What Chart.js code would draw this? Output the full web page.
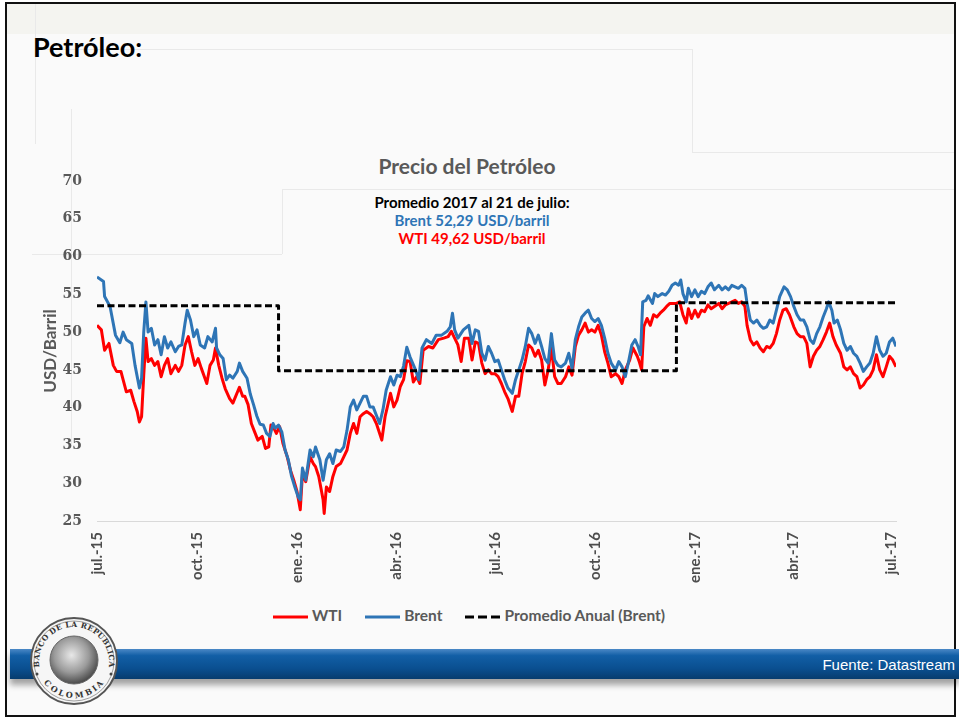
<!DOCTYPE html>
<html lang="es">
<head>
<meta charset="utf-8">
<script src="https://cdn.jsdelivr.net/npm/chart.js@4.4.1/dist/chart.umd.min.js"></script>
<style>
    html, body { margin: 0; padding: 0; width: 959px; height: 721px; overflow: hidden; background: #ffffff; }
    #slide { position: absolute; left: 5px; top: 2px; width: 951px; height: 715px; box-sizing: border-box;
             border: 2px solid #111; background: #fafafa; overflow: hidden; }
    .faint { position: absolute; background: #e9e9e9; }
    #franjaTop { position: absolute; left: 0; top: 0; width: 100%; height: 30px; background: #f4f4f0; }
    #tituloSlide { position: absolute; left: 33px; top: 30px; font: bold 27px Lato, sans-serif; color: #000; }
    #tituloGrafico { position: absolute; left: 267px; width: 400px; top: 153px; text-align: center;
                     font: bold 21px Lato, sans-serif; color: #595959; }
    #nota { position: absolute; left: 272px; width: 400px; top: 193px; text-align: center;
            font: bold 15px/18px Lato, sans-serif; }
    #grafico { position: absolute; left: 0; top: 140px; width: 959px; height: 460px; }
    #leyenda { position: absolute; left: 273px; top: 605px; display: flex; align-items: center; height: 19px;
               font: bold 15.5px Lato, sans-serif; color: #595959; white-space: nowrap; }
    #leyenda svg { margin-right: 4px; position: relative; top: 2px; }
    #leyenda .item { display: flex; align-items: center; margin-right: 23px; }
    #banda { position: absolute; left: 10px; top: 649px; width: 949px; height: 30px;
             background: linear-gradient(to bottom, #4a88c6 0%, #125fa6 22%, #0a4f90 65%, #073c6e 100%);
             box-shadow: 0 6px 6px rgba(0,0,0,0.35); }
    #fuente { position: absolute; right: 4px; top: 656px; font: 15px "Liberation Sans", Arial, sans-serif; color: #fff; }
    #logo { position: absolute; left: 29px; top: 616px; }
</style>
</head>
<body>
<div id="slide">
    <div id="franjaTop"></div>
    <div class="faint" style="left:28px; top:0; width:1px; height:140px;"></div>
    <div class="faint" style="left:28px; top:45px; width:657px; height:1px;"></div>
    <div class="faint" style="left:685px; top:45px; width:1px; height:103px;"></div>
    <div class="faint" style="left:685px; top:148px; width:270px; height:1px;"></div>
    <div class="faint" style="left:64px; top:105px; width:1px; height:335px;"></div>
    <div class="faint" style="left:275px; top:185px; width:680px; height:1px;"></div>
    <div class="faint" style="left:275px; top:185px; width:1px; height:65px;"></div>
    <div class="faint" style="left:25px; top:250px; width:250px; height:1px;"></div>
</div>
<div id="tituloSlide">Petróleo:</div>
<div id="tituloGrafico">Precio del Petróleo</div>
<div id="nota">
    <div style="color:#000">Promedio 2017 al 21 de julio:</div>
    <div style="color:#2E75B6">Brent 52,29 USD/barril</div>
    <div style="color:#FF0000">WTI 49,62 USD/barril</div>
</div>
<canvas id="grafico" width="959" height="460"></canvas>
<div id="leyenda">
    <div class="item"><svg width="35" height="6"><line x1="0" y1="3" x2="35" y2="3" stroke="#FF0000" stroke-width="3"/></svg>WTI</div>
    <div class="item"><svg width="35" height="6"><line x1="0" y1="3" x2="35" y2="3" stroke="#2E75B6" stroke-width="3"/></svg>Brent</div>
    <div class="item"><svg width="35" height="6"><line x1="0" y1="3" x2="35" y2="3" stroke="#000" stroke-width="3" stroke-dasharray="9 4"/></svg>Promedio Anual (Brent)</div>
</div>
<div id="banda"></div>
<div id="fuente">Fuente: Datastream</div>
<svg id="logo" width="90" height="90" viewBox="0 0 90 90">
    <defs>
        <radialGradient id="cara" cx="45%" cy="40%" r="60%">
            <stop offset="0%" stop-color="#e8e8e8"/>
            <stop offset="60%" stop-color="#9a9a9a"/>
            <stop offset="100%" stop-color="#4a4a4a"/>
        </radialGradient>
        <path id="arcoSup" d="M 15 64 A 35 35 0 1 1 75 64"/>
        <path id="arcoInf" d="M 17 58 A 31 31 0 0 0 73 58"/>
    </defs>
    <circle cx="45" cy="45" r="43" fill="#f6f6f6" stroke="#555" stroke-width="2"/>
    <circle cx="45" cy="45" r="40" fill="none" stroke="#888" stroke-width="0.8"/>
    <circle cx="45" cy="44" r="24" fill="url(#cara)" stroke="#666" stroke-width="1"/>
    <text font-family="DejaVu Serif" font-weight="bold" font-size="7.5" fill="#333" letter-spacing="0.3">
        <textPath href="#arcoSup" startOffset="50%" text-anchor="middle">BANCO DE LA REPUBLICA</textPath>
    </text>
    <text font-family="DejaVu Serif" font-weight="bold" font-size="8" fill="#333" letter-spacing="1">
        <textPath href="#arcoInf" startOffset="50%" text-anchor="middle" dominant-baseline="hanging">COLOMBIA</textPath>
    </text>
    <circle cx="8" cy="58" r="1.5" fill="#444"/>
    <circle cx="82" cy="58" r="1.5" fill="#444"/>
</svg>

<script>
// Ejes: días desde el 1 de julio de 2015
const etiquetasX = ["jul.-15","oct.-15","ene.-16","abr.-16","jul.-16","oct.-16","ene.-17","abr.-17","jul.-17"];
const diasTicks  = [0, 92, 184, 275, 366, 458, 550, 640, 731];

// Brent (USD/barril)
const diasBrent = [
    0,6,7,12,17,21,24,27,32,35,
    39,41,43,45,47,50,53,56,59,62,
    65,68,72,75,78,81,83,86,89,92,
    95,99,102,106,109,110,113,116,119,122,
    125,129,131,134,138,141,144,147,150,153,
    156,159,162,164,167,170,173,176,179,182,
    185,187,189,192,196,199,201,205,208,211,
    214,217,220,224,227,230,233,236,239,242,
    245,248,251,254,257,260,263,266,270,273,
    276,279,282,285,288,293,296,299,303,308,
    312,317,322,325,327,329,332,337,342,345,
    348,351,354,357,360,363,366,369,372,375,
    378,382,385,388,391,394,397,400,403,406,
    409,412,415,418,421,424,427,431,434,437,
    440,443,446,449,452,455,458,461,464,467,
    470,473,477,480,483,486,489,492,495,498,
    500,502,505,507,511,513,516,520,523,526,
    529,532,535,537,539,542,544,547,550,553,
    556,559,562,565,568,572,575,578,581,584,
    587,590,593,596,598,601,604,607,610,613,
    616,619,622,625,628,632,635,638,641,644,
    647,650,653,656,659,662,665,668,671,673,
    676,678,681,684,687,690,693,696,699,702,
    705,708,711,714,717,720,723,726,729,732,735
];
const brent = [
    57.3,56.7,54.7,53.4,49.6,48.6,50.0,49.0,48.5,45.6,
    42.6,43.9,50.0,54.0,50.0,50.5,48.3,49.0,47.0,49.4,
    47.9,48.7,47.4,48.1,48.3,51.2,52.9,51.6,49.4,50.3,
    48.3,47.9,49.4,48.7,50.5,47.9,47.0,46.5,43.7,44.3,
    43.9,44.8,45.9,44.8,43.9,41.8,40.4,38.9,37.8,37.7,
    36.6,36.2,37.9,37.3,37.7,36.8,34.4,33.1,30.9,29.5,
    28.2,27.8,32.0,30.4,34.4,33.5,34.8,33.1,30.4,33.1,
    33.9,32.6,34.4,34.2,34.8,37.0,40.1,41.0,39.7,40.6,
    41.5,41.5,40.1,40.1,39.0,37.9,39.7,42.3,44.1,43.0,
    44.3,44.1,45.5,48.0,46.7,45.0,43.7,47.9,49.0,48.5,
    49.6,49.6,50.1,50.7,52.5,50.3,49.2,50.3,50.9,48.5,
    50.3,50.1,47.2,46.3,48.1,47.2,46.1,46.3,45.0,43.7,
    42.6,41.9,43.7,45.0,46.3,48.1,50.5,49.8,48.5,49.6,
    48.1,46.5,45.9,49.8,46.3,45.6,45.4,45.9,47.2,45.2,
    49.0,50.7,52.0,52.5,52.9,51.8,51.4,51.8,50.9,49.2,
    47.2,45.9,45.0,46.1,45.4,44.1,46.1,48.3,49.0,48.0,
    47.0,54.0,54.2,54.8,53.8,55.1,54.7,55.1,54.9,55.4,
    56.2,56.5,56.2,56.9,55.1,54.0,55.8,54.7,55.6,54.7,
    55.4,55.1,56.0,56.5,55.6,56.2,55.6,56.0,55.6,56.2,
    56.0,55.8,56.2,55.8,53.8,51.6,51.2,51.6,50.9,50.5,
    50.7,51.6,51.2,52.9,54.7,56.0,55.6,54.7,53.4,52.3,
    51.6,51.6,50.7,49.0,48.5,49.8,50.7,52.0,53.1,54.0,
    52.9,51.2,51.6,50.3,48.5,47.6,48.1,47.2,46.8,45.9,
    44.8,45.4,45.9,47.2,49.4,47.6,46.8,47.2,48.7,49.2,48.1
];

// WTI (USD/barril)
const diasWTI = [
    0,4,7,11,15,18,22,24,27,31,
    34,37,39,41,43,45,47,50,53,56,
    59,62,65,68,72,75,78,81,84,87,
    90,93,96,101,104,107,109,112,115,118,
    122,125,131,134,136,139,142,145,148,152,
    155,158,160,162,165,168,171,175,178,181,
    184,187,189,192,196,199,201,204,208,209,
    211,214,217,220,224,227,230,233,236,239,
    242,245,248,251,254,257,262,265,270,273,
    276,279,282,285,288,291,294,297,300,305,
    309,314,319,323,326,329,332,335,338,342,
    345,348,351,354,357,360,363,366,369,372,
    375,378,382,385,388,391,394,397,400,403,
    406,409,412,415,418,421,424,427,431,434,
    437,440,443,446,449,452,455,458,461,464,
    467,470,473,477,480,483,486,490,493,497,
    499,501,503,506,509,512,515,518,521,524,
    527,530,533,536,539,542,544,547,550,553,
    556,559,562,565,568,572,575,578,581,584,
    587,590,593,596,598,601,604,607,610,613,
    616,619,622,625,628,631,634,637,641,644,
    647,650,653,656,659,662,665,668,671,674,
    677,680,684,687,690,693,696,699,702,705,
    708,711,714,717,720,723,726,729,732,735
];
const wti = [
    50.9,50.3,47.6,48.5,45.6,44.8,44.8,43.7,42.1,42.3,
    40.8,39.5,38.1,38.8,44.3,49.2,46.1,46.5,45.6,46.1,
    44.1,45.6,46.5,44.5,45.6,44.8,45.6,48.3,49.4,47.4,
    45.6,46.5,45.2,43.2,45.6,46.3,47.9,45.6,43.9,42.5,
    41.2,40.6,42.7,41.5,41.5,40.4,37.9,36.8,35.7,36.2,
    34.6,34.8,37.7,37.5,36.6,37.5,35.3,33.5,31.7,30.4,
    28.9,26.5,31.3,30.2,33.5,32.6,32.2,30.9,27.8,26.0,
    29.5,28.9,30.9,32.2,32.6,33.5,34.4,36.6,37.9,36.6,
    38.8,39.2,39.5,39.2,38.8,37.9,35.7,38.8,41.9,40.1,
    41.0,42.8,43.7,46.2,46.1,43.4,44.1,43.2,47.6,48.1,
    47.9,49.0,49.2,49.4,50.1,49.2,48.3,46.1,49.2,49.2,
    46.3,48.7,48.5,45.9,44.5,45.0,44.5,44.5,44.1,43.2,
    42.1,41.2,39.5,41.5,41.5,44.5,46.1,48.3,47.9,46.8,
    47.6,46.3,43.0,45.0,47.9,44.1,43.2,43.2,44.1,45.4,
    44.3,48.1,49.6,50.3,51.2,50.0,50.3,50.0,50.9,49.6,
    47.4,45.9,44.1,44.5,44.1,43.2,45.0,46.3,47.9,46.8,
    46.0,45.0,50.7,51.8,50.9,52.3,52.0,52.5,52.9,53.4,
    53.8,53.8,53.8,54.0,52.3,51.2,53.1,51.8,52.9,52.0,
    52.9,52.7,53.6,53.1,53.4,53.8,53.1,53.6,53.8,54.0,
    54.2,53.8,54.0,53.4,50.9,49.0,48.3,48.7,47.9,47.4,
    48.1,47.9,48.5,49.8,51.6,52.9,53.1,52.3,50.7,49.8,
    49.4,49.4,48.5,45.4,46.8,47.6,48.1,49.0,50.0,51.2,
    49.4,48.3,47.2,45.4,45.0,45.4,44.5,44.1,42.6,43.0,
    43.7,44.1,45.0,47.0,45.0,44.1,45.4,46.8,46.3,45.4
];

// Promedio anual del Brent (2015, 2016, 2017)
const diasPromedio = [0, 167, 167, 533, 533, 735];
const promedio     = [53.5, 53.5, 44.9, 44.9, 53.9, 53.9];

function puntos(dias, valores){
    return dias.map((d, i) => ({ x: d, y: valores[i] }));
}

const gris = '#595959';

new Chart(document.getElementById('grafico'), {
    type: 'line',
    data: {
        datasets: [{
            label: 'WTI',
            data: puntos(diasWTI, wti),
            borderColor: '#FF0000',
            borderWidth: 3,
            order: 3
        }, {
            label: 'Brent',
            data: puntos(diasBrent, brent),
            borderColor: '#2E75B6',
            borderWidth: 3,
            order: 2
        }, {
            label: 'Promedio Anual (Brent)',
            data: puntos(diasPromedio, promedio),
            borderColor: '#000000',
            borderWidth: 3,
            borderDash: [7, 3.5],
            order: 1
        }]
    },
    options: {
        responsive: false,
        animation: false,
        elements: {
            point: { radius: 0 },
            line:  { tension: 0, borderJoinStyle: 'round' }
        },
        layout: { padding: { top: 41, right: 63, left: 0, bottom: 0 } },
        plugins: {
            legend:  { display: false },
            tooltip: { enabled: false }
        },
        scales: {
            x: {
                type: 'linear',
                min: 0,
                max: 735,
                grid:   { display: false, drawTicks: false },
                border: { display: true, color: '#d9d9d9', width: 1 },
                afterBuildTicks: scale => { scale.ticks = diasTicks.map(v => ({ value: v })); },
                afterFit: scale => { scale.height = 79; },
                ticks: {
                    autoSkip: false,
                    minRotation: 90,
                    maxRotation: 90,
                    padding: 11,
                    color: '#4d4d4d',
                    font: { family: 'Lato', weight: 'bold', size: 15 },
                    callback: (v) => etiquetasX[diasTicks.indexOf(v)]
                }
            },
            y: {
                min: 25,
                max: 70,
                grid:   { display: false, drawTicks: false },
                border: { display: false },
                afterFit: scale => { scale.width = 97; },
                ticks: {
                    stepSize: 5,
                    padding: 15,
                    color: gris,
                    font: { family: 'DejaVu Serif', weight: 'bold', size: 14 }
                },
                title: {
                    display: true,
                    text: 'USD/Barril',
                    color: gris,
                    padding: { top: 40, bottom: 0 },
                    font: { family: 'Lato', weight: 'bold', size: 17 }
                }
            }
        }
    }
});
</script>
</body>
</html>
